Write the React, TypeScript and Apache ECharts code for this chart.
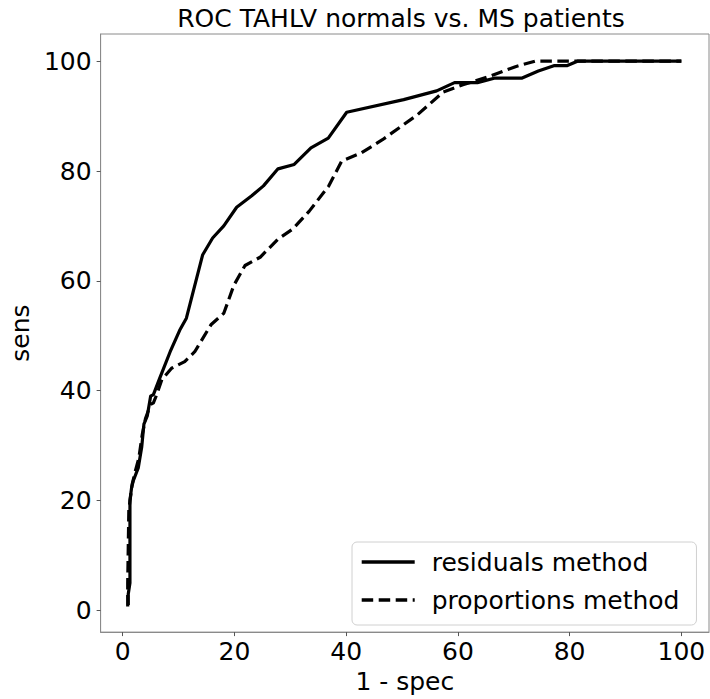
import React, { useEffect, useRef } from "react";
import * as echarts from "echarts";

const chartTitle = "ROC TAHLV normals vs. MS patients";
const xAxisName = "1 - spec";
const yAxisName = "sens";
const tickValues = [0, 20, 40, 60, 80, 100];
const seriesNames = ["residuals method", "proportions method"];

// [1 - spec, sens]
const residualsMethod: [number, number][] = [
  [1.0, 1.0], [1.0, 3.0], [1.3, 5.0], [1.3, 20.0], [1.6, 22.4], [1.9, 23.6],
  [2.8, 26.0], [3.4, 29.7], [3.8, 33.9], [4.4, 35.4], [5.0, 39.0], [5.5, 39.3],
  [6.6, 42.2], [8.5, 47.1], [10.2, 51.0], [11.4, 53.2], [14.3, 64.7], [16.1, 67.8],
  [18.1, 70.0], [20.4, 73.4], [23.1, 75.5], [25.2, 77.3], [27.8, 80.4], [30.7, 81.2],
  [33.7, 84.2], [36.8, 86.0], [40.1, 90.7], [50.3, 93.0], [56.2, 94.6], [59.4, 96.1],
  [63.5, 96.1], [66.5, 96.9], [71.4, 96.9], [74.4, 98.2], [77.3, 99.2], [79.6, 99.2],
  [81.4, 100], [100, 100],
];

const proportionsMethod: [number, number][] = [
  [0.9, 0.7], [0.9, 5.0], [1.1, 18.3], [1.7, 23.0], [2.3, 25.5], [2.9, 27.8],
  [3.5, 32.0], [4.1, 35.0], [5.0, 37.5], [5.5, 37.8], [6.1, 39.3], [7.0, 42.0],
  [8.75, 44.1], [11.1, 45.3], [12.9, 47.1], [15.8, 52.0], [18.1, 54.1], [19.9, 59.2],
  [21.9, 62.8], [24.6, 64.3], [27.8, 67.6], [30.4, 69.4], [33.4, 72.7], [36.9, 77.3],
  [39.2, 81.8], [42.7, 83.3], [46.5, 85.7], [52.7, 90.2], [57.4, 94.4], [60.9, 95.7],
  [65.6, 97.2], [70.3, 99.0], [73.8, 100], [100, 100],
];

const FONT = "DejaVu Sans";
const FS = 25;

export default function App() {
  const ref = useRef<HTMLDivElement>(null);

  useEffect(() => {
    if (!ref.current) return;
    const chart = echarts.init(ref.current, undefined, { renderer: "svg" });
    const axisCommon = {
      type: "value" as const,
      min: -3.95,
      max: 104.95,
      splitLine: { show: false },
      axisLine: { show: true, onZero: false, lineStyle: { color: "#8a8a8a", width: 1 } },
      axisTick: {
        show: true,
        inside: false,
        length: 4,
        lineStyle: { color: "#555", width: 1 },
        customValues: tickValues,
      },
      axisLabel: {
        color: "#000",
        fontFamily: FONT,
        fontSize: FS,
        customValues: tickValues,
      },
      nameLocation: "middle" as const,
      nameTextStyle: { color: "#000", fontFamily: FONT, fontSize: FS },
    };
    chart.setOption({
      animation: false,
      backgroundColor: "#ffffff",
      title: {
        text: chartTitle,
        left: 401,
        textAlign: "center",
        top: 6,
        padding: 0,
        textStyle: { color: "#000", fontFamily: FONT, fontSize: FS, fontWeight: "normal" },
      },
      grid: {
        left: 93,
        right: 1,
        top: 34,
        bottom: 63,
        show: true,
        borderColor: "#8a8a8a",
        borderWidth: 1,
        containLabel: false,
      },
      xAxis: {
        ...axisCommon,
        name: xAxisName,
        nameGap: 34,
        axisLabel: { ...axisCommon.axisLabel, margin: 7 },
      },
      yAxis: {
        ...axisCommon,
        name: yAxisName,
        nameGap: 56,
        nameRotate: 90,
        axisLabel: { ...axisCommon.axisLabel, margin: 9 },
      },
      legend: {
        orient: "vertical",
        left: 352,
        top: 542,
        padding: [5, 17, 10, 8],
        itemWidth: 53,
        itemHeight: 14,
        itemGap: 8,
        backgroundColor: "#ffffff",
        borderColor: "#d0d0d0",
        borderWidth: 1,
        borderRadius: 5,
        itemStyle: { opacity: 0, borderWidth: 0 },
        lineStyle: { width: 3.4, cap: "butt" },
        textStyle: { color: "#000", fontFamily: FONT, fontSize: FS, lineHeight: 30, padding: [0, 0, 0, 12] },
        data: seriesNames,
      },
      series: [
        {
          name: seriesNames[0],
          type: "line",
          data: residualsMethod,
          showSymbol: false,
          symbol: "none",
          lineStyle: { color: "#000", width: 3.2, type: "solid", cap: "butt", join: "round" },
          itemStyle: { color: "#000" },
        },
        {
          name: seriesNames[1],
          type: "line",
          data: proportionsMethod,
          showSymbol: false,
          symbol: "none",
          lineStyle: { color: "#000", width: 3.2, type: [11.5, 5.5], cap: "butt", join: "round" },
          itemStyle: { color: "#000" },
        },
      ],
    });
    return () => chart.dispose();
  }, []);

  return (
    <div
      ref={ref}
      style={{ position: "fixed", left: 0, top: 0, width: 710, height: 699, background: "#fff" }}
    />
  );
}
